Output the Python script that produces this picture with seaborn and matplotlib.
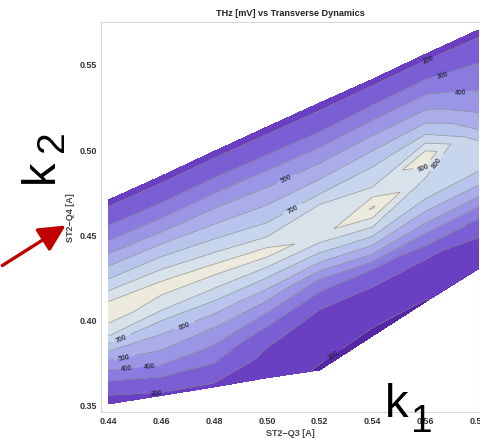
import numpy as np
import matplotlib.pyplot as plt
import seaborn as sns
from matplotlib.patches import FancyArrowPatch

# scan grid: each k1 column was scanned over its own k2 window
k1 = [0.44, 0.46, 0.48, 0.50, 0.52, 0.54, 0.56, 0.58]
k2_low = [0.350, 0.355, 0.360, 0.3654, 0.370, 0.390, 0.410, 0.4294]
k2_high = [0.470, 0.484, 0.4986, 0.5129, 0.5271, 0.541, 0.5557, 0.570]
n_steps = 13

# THz signal [mV], rows = k2 steps (bottom -> top), columns = k1
thz = [
    [150, 180, 180, 150, 90, 80, 95, 150],
    [247, 297, 278, 177, 127, 132, 141, 177],
    [400, 450, 383, 230, 162, 171, 191, 218],
    [577, 556, 497, 385, 215, 270, 340, 377],
    [800, 683, 640, 555, 380, 546, 537, 572],
    [933, 862, 796, 740, 640, 780, 700, 714],
    [904, 938, 944, 945, 860, 1010, 800, 780],
    [746, 784, 774, 750, 895, 790, 985, 600],
    [616, 643, 636, 631, 680, 690, 720, 480],
    [477, 491, 512, 514, 540, 553, 540, 395],
    [353, 361, 383, 391, 400, 413, 406, 326],
    [247, 248, 255, 254, 256, 270, 268, 247],
    [170, 170, 170, 170, 170, 170, 170, 170],
]

levels = [0, 100, 200, 300, 400, 500, 600, 700, 800, 900, 1000, 1100]
band_colors = ['#5526a6', '#6a3fc2', '#7b5ed3', '#8b7bdf', '#9b95e6', '#aaade9',
               '#b9c4ec', '#c7d6ed', '#d8e2ea', '#ece9dd', '#f3efe3']

# where the contour labels sit
label_pos = [(0.4584, 0.3559), (0.4557, 0.370), (0.447, 0.370), (0.4463, 0.3759),
             (0.4444, 0.390), (0.4682, 0.3982), (0.5099, 0.4645), (0.5076, 0.4824),
             (0.5591, 0.4912), (0.5663, 0.490), (0.5618, 0.550), (0.5667, 0.5429),
             (0.5732, 0.5365), (0.5247, 0.380)]

sns.set_style('white', rc={'axes.edgecolor': '.85', 'axes.linewidth': 0.8})
plt.rcParams['font.family'] = ['Liberation Sans', 'DejaVu Sans']

X = np.tile(np.array(k1), (n_steps, 1))
Y = np.column_stack([np.linspace(lo, hi, n_steps) for lo, hi in zip(k2_low, k2_high)])
Z = np.array(thz, dtype=float)

fig = plt.figure(figsize=(4.81, 4.39), dpi=100)
ax = fig.add_axes([0.2100, 0.0592, 0.7879, 0.8884])

ax.contourf(X, Y, Z, levels=levels, colors=band_colors)
cs = ax.contour(X, Y, Z, levels=levels[1:-1], colors='#7f7f7f', linewidths=0.5, alpha=0.8)

ax.set_xlim(0.4372, 0.5807)
ax.set_ylim(0.3453, 0.5747)
ax.set_xticks([0.44, 0.46, 0.48, 0.50, 0.52, 0.54, 0.56, 0.58])
ax.set_yticks([0.35, 0.40, 0.45, 0.50, 0.55])
ax.tick_params(length=0, pad=3, labelsize=6.5, labelcolor='#333333')
for t in ax.get_xticklabels() + ax.get_yticklabels():
    t.set_fontweight('bold')

labels = ax.clabel(cs, fmt='%d', fontsize=5, inline=True, colors='#1c1c2c', manual=label_pos)
for t in labels:
    t.set_fontweight('bold')

ax.set_title('THz [mV] vs Transverse Dynamics', fontsize=6.6, fontweight='bold', color='#222222', pad=5)
ax.set_xlabel('ST2−Q3 [A]', fontsize=6.5, fontweight='bold', color='#444444', labelpad=2)
ax.set_ylabel('ST2−Q4 [A]', fontsize=6.5, fontweight='bold', color='#444444', labelpad=3)

# annotations on top of the figure
W, H = 481, 439
fig.text(385 / W, 1 - 417 / H, 'k', fontsize=34, color='black', ha='left', va='baseline')
fig.text(411 / W, 1 - 432 / H, '1', fontsize=28, color='black', ha='left', va='baseline')
fig.text(53 / W, 1 - 183 / H, 'k', fontsize=34, color='black', rotation=90,
         rotation_mode='anchor', ha='left', va='baseline')
fig.text(63 / W, 1 - 152 / H, '2', fontsize=28, color='black', rotation=90,
         rotation_mode='anchor', ha='left', va='baseline')

arrow = FancyArrowPatch((0 / W, 1 - 268 / H), (68 / W, 1 - 225 / H), transform=fig.transFigure,
                        arrowstyle='-|>,head_length=0.9,head_width=0.45', mutation_scale=18,
                        lw=2.4, color='#c00000')
fig.patches.append(arrow)

fig.savefig('out.png', dpi=100)
